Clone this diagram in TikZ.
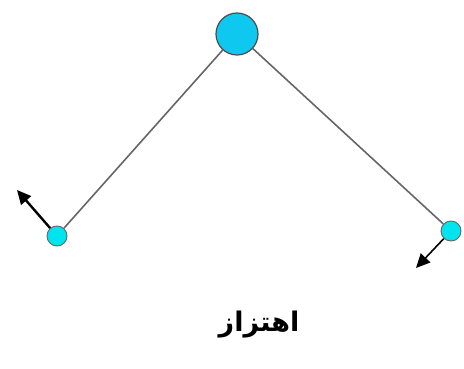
\documentclass[tikz,border=0pt]{standalone}
\usepackage{fontspec}
\newfontfamily\arabicfont[Script=Arabic]{DejaVu Sans}
\TeXXeTstate=1
\usepackage{tikz}
\usetikzlibrary{arrows.meta, positioning, calc}

\definecolor{bobcyan}{RGB}{15,200,240}
\definecolor{ballcyan}{RGB}{0,228,240}

\begin{document}
\begin{tikzpicture}[x=1pt, y=-1pt,
    bob/.style={circle, draw=black!70, fill=bobcyan, line width=1.2pt, minimum size=42pt, inner sep=0pt},
    ball/.style={circle, draw=black!60, fill=ballcyan, line width=0.9pt, minimum size=20pt, inner sep=0pt},
    rod/.style={draw=black!60, line width=1.6pt},
    push/.style={-{Triangle[length=14pt, width=13pt]}, line width=2.4pt}]
    \useasboundingbox (0,0) rectangle (464,369);

    \node[bob] (top) at (237,34) {};
    \node[ball] (left) at (57,236) {};
    \node[ball] (right) at (451,231) {};
    \coordinate (lefttip) at (17,190);
    \coordinate (righttip) at (416,268);

    \draw[rod] (top) -- (left);
    \draw[rod] (top) -- (right);
    \draw[push] (left) -- (lefttip);
    \draw[push, line width=1.6pt] (right) -- (righttip);

    \node[font=\arabicfont\bfseries\fontsize{27}{30}\selectfont] (label) at (259,325) {\beginR اهتزاز\endR};
  \end{tikzpicture}
\end{document}
